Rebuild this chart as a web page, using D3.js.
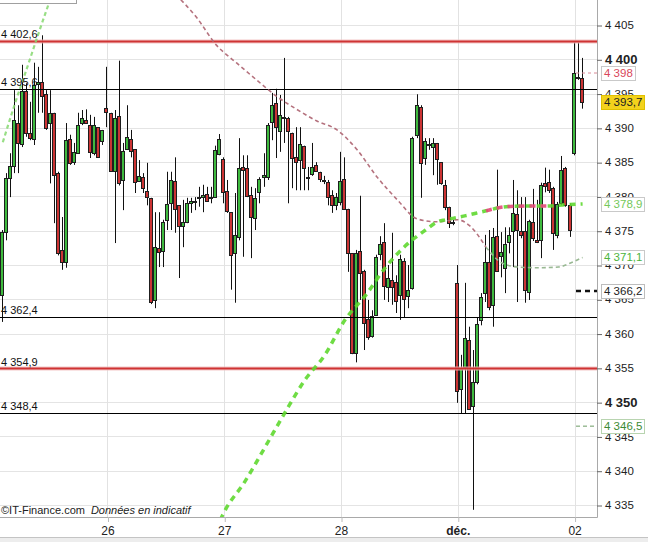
<!DOCTYPE html>
<html><head><meta charset="utf-8">
<script src="https://cdn.jsdelivr.net/npm/d3@7"></script>
<style>
html,body{margin:0;padding:0;background:#fff;}
svg{display:block;font-family:"Liberation Sans",Arial,sans-serif;}
</style></head><body>
<svg id="c" width="648" height="542"></svg>
<script>
// ---- data ----
const openP = [4365.6,4374.8,4382.7,4384.4,4390.7,4387.6,4395.4,4389.3,4388.4,4396.4,4396.7,4394.9,4390.7,4392.2,4383.4,4372.2,4370.4,4388.4,4385.0,4386.3,4390.7,4391.1,4390.4,4386.3,4390.1,4388.1,4392.9,4392.2,4383.7,4391.7,4382.4,4386.9,4388.4,4386.9,4382.3,4382.8,4380.8,4379.8,4364.9,4372.5,4372.0,4376.6,4379.0,4382.3,4378.7,4375.7,4376.3,4379.1,4379.4,4379.8,4379.9,4380.4,4379.8,4379.9,4386.2,4385.5,4380.8,4377.7,4371.7,4374.1,4384.3,4384.2,4380.2,4376.9,4380.6,4382.8,4382.8,4390.9,4393.6,4389.5,4391.4,4391.4,4389.3,4385.7,4385.3,4387.4,4382.9,4383.3,4384.6,4383.6,4382.4,4382.1,4380.2,4378.7,4379.2,4382.5,4378.2,4371.7,4357.2,4372.0,4369.1,4362.1,4359.6,4362.7,4371.6,4373.4,4366.8,4367.8,4367.5,4365.6,4370.6,4365.5,4366.6,4389.0,4393.0,4385.6,4387.5,4387.2,4387.8,4385.0,4381.7,4378.5,4376.2,4367.4,4351.9,4355.1,4359.1,4349.4,4352.9,4362.0,4365.9,4370.4,4364.2,4374.2,4371.3,4369.6,4373.4,4375.0,4377.4,4375.0,4375.0,4366.1,4376.3,4373.6,4373.6,4382.0,4382.1,4381.2,4374.4,4379.0,4384.2,4378.7,4386.3,4397.4,4397.3];
const highP = [4375.1,4383.4,4386.3,4395.5,4393.3,4399.2,4396.5,4393.8,4399.5,4398.9,4403.5,4395.5,4395.5,4392.2,4383.6,4377.0,4390.7,4389.0,4387.8,4392.2,4392.6,4392.7,4391.9,4391.6,4390.1,4389.7,4398.9,4392.2,4392.6,4399.8,4387.8,4393.3,4389.7,4386.9,4385.3,4383.4,4384.9,4379.8,4377.7,4377.7,4376.6,4383.6,4383.6,4385.7,4378.7,4379.5,4379.8,4379.8,4379.9,4381.4,4381.7,4381.4,4381.4,4387.4,4389.1,4385.7,4382.4,4377.7,4380.5,4388.5,4386.0,4386.0,4381.4,4381.2,4382.8,4386.3,4390.7,4395.1,4395.7,4394.8,4400.2,4391.6,4389.3,4390.1,4390.1,4387.4,4384.3,4387.8,4385.0,4383.6,4383.0,4382.4,4380.9,4380.5,4386.5,4385.7,4378.2,4371.7,4372.2,4380.1,4369.3,4364.9,4363.4,4371.5,4374.2,4376.1,4370.0,4374.7,4368.5,4371.5,4371.0,4370.0,4388.7,4394.9,4393.3,4388.5,4388.5,4388.5,4387.8,4385.0,4382.4,4378.5,4376.6,4370.0,4356.9,4367.4,4361.0,4357.6,4362.3,4365.9,4374.4,4375.1,4375.4,4383.9,4374.8,4375.5,4375.5,4382.4,4380.9,4379.9,4379.9,4376.6,4381.1,4379.5,4382.0,4384.2,4383.9,4381.4,4379.2,4385.9,4384.3,4379.0,4402.5,4402.5,4400.2];
const lowP = [4361.7,4373.6,4379.9,4383.4,4383.4,4387.2,4388.7,4388.2,4387.5,4392.2,4392.2,4389.7,4381.9,4376.1,4371.4,4369.3,4369.6,4384.6,4384.6,4386.3,4390.4,4390.7,4385.6,4386.0,4385.6,4387.5,4390.1,4383.6,4373.2,4381.6,4378.0,4386.8,4385.7,4380.5,4382.1,4380.5,4378.7,4364.3,4363.7,4369.7,4369.7,4375.1,4375.1,4374.7,4368.1,4372.6,4376.1,4377.6,4378.0,4378.5,4377.7,4379.2,4379.0,4379.9,4386.0,4379.0,4377.6,4366.4,4364.5,4373.6,4371.2,4379.9,4371.0,4375.1,4379.0,4381.4,4382.4,4388.2,4385.6,4386.5,4387.8,4379.0,4381.2,4380.9,4380.9,4380.9,4380.9,4383.0,4383.7,4382.1,4381.8,4378.7,4377.6,4378.0,4378.7,4378.2,4369.0,4357.0,4355.8,4364.9,4357.6,4359.1,4359.4,4362.6,4370.7,4364.9,4364.6,4364.2,4363.0,4362.0,4362.3,4363.7,4366.4,4388.5,4379.8,4384.6,4386.8,4383.1,4381.7,4381.7,4378.0,4375.4,4375.8,4349.9,4348.4,4348.4,4348.9,4334.3,4352.6,4361.2,4364.6,4363.4,4361.0,4369.0,4368.2,4365.9,4371.7,4369.7,4364.6,4373.9,4364.5,4364.9,4373.5,4373.2,4371.0,4380.6,4380.5,4372.2,4373.9,4378.7,4378.5,4374.1,4386.0,4397.0,4392.8];
const closeP = [4374.8,4382.7,4384.4,4391.1,4387.8,4395.4,4389.3,4388.5,4396.3,4396.7,4394.6,4390.0,4392.2,4383.1,4371.7,4370.4,4388.2,4384.9,4386.5,4390.4,4391.4,4390.7,4386.5,4390.4,4385.7,4389.7,4392.3,4383.7,4391.4,4381.9,4386.6,4388.7,4386.6,4382.1,4383.0,4381.2,4379.9,4364.6,4372.6,4371.9,4376.3,4378.9,4382.4,4378.2,4375.7,4376.3,4379.0,4379.3,4379.2,4379.9,4380.2,4379.3,4379.9,4386.8,4388.4,4380.6,4377.9,4371.5,4374.4,4384.2,4383.9,4380.1,4377.0,4379.8,4382.5,4383.1,4390.4,4393.3,4390.1,4391.9,4391.6,4389.5,4385.6,4385.0,4387.6,4384.2,4382.7,4384.3,4383.7,4382.5,4382.3,4379.9,4378.7,4379.9,4382.3,4378.2,4371.7,4357.2,4371.7,4368.8,4361.5,4359.5,4362.6,4371.2,4373.1,4366.9,4368.1,4366.8,4364.7,4370.9,4365.0,4366.4,4388.5,4393.3,4384.9,4388.1,4387.6,4387.8,4385.5,4381.9,4378.5,4376.1,4376.1,4351.6,4355.0,4359.4,4349.0,4352.9,4361.4,4365.3,4370.4,4363.9,4374.1,4369.1,4371.9,4373.1,4374.4,4377.6,4375.1,4374.4,4366.4,4376.4,4373.9,4373.4,4381.7,4381.5,4380.9,4374.7,4378.9,4383.9,4378.7,4375.1,4398.0,4397.3,4393.7];

const dayTickIndex  = [26, 55, 84, 113, 142];
const dayTickLabels = ["26", "27", "28", "déc.", "02"];
const priceTicks = [4335,4340,4345,4350,4355,4360,4365,4370,4375,4380,4385,4390,4395,4400,4405];
const boldTicks = [4400, 4350];

const redLevels   = [4402.6, 4354.9];
const blackLevels = [4395.6, 4362.4, 4348.4];

// thick dotted indicator (two visible pieces)
const trendEarlyIdx = [0, 3, 6, 9, 12];
const trendEarlyVal = [4387.9, 4393.5, 4398.7, 4404.0, 4409.1];
const trendLateIdx = [54,55,60,65,70,75,80,85,90,95,100,105,108,110,115,120,125,130,135,140,144];
const trendLateVal = [4332.8,4334.0,4338.3,4343.3,4348.4,4353.2,4356.9,4362.0,4365.5,4369.6,4372.8,4375.1,4376.3,4376.6,4377.2,4377.9,4378.5,4378.6,4378.6,4378.8,4378.9];
// thin dashed average
const avgIdx = [43,48,53,58,63,68,73,78,83,88,93,98,103,108,113,116,120,124,128,133,138,141,144];
const avgVal = [4409.4,4406.2,4402.1,4399.5,4397.0,4394.6,4392.7,4391.0,4389.7,4386.8,4382.8,4379.5,4376.7,4376.3,4376.6,4375.7,4372.6,4370.3,4369.7,4369.6,4369.7,4370.3,4371.1];

const markerValues = [4398, 4366.2, 4346.5];
const boxValues = [4398, 4393.7, 4378.9, 4371.1, 4366.2, 4346.5];

// ---- drawing ----
const W = 597, H = 517;
const svg = d3.select("#c");
const loc = d3.formatLocale({decimal: ",", thousands: "\u00a0", grouping: [3], currency: ["", "€"]});
const fmtInt = loc.format(",");
const fmt1 = loc.format(",.1f");
const fmtVal = v => Number.isInteger(v) ? fmtInt(v) : fmt1(v);

const n = openP.length;
const x = d3.scaleLinear().domain([0, n - 1]).range([2.8, 582.6]);
const y = d3.scaleLinear().domain([4335, 4405]).range([505, 25]);

svg.append("rect").attr("width", 648).attr("height", 542).attr("fill", "#fff");
svg.append("rect").attr("x", 0).attr("y", 537).attr("width", 648).attr("height", 5).attr("fill", "#ededed");
svg.append("line").attr("x1", 0).attr("x2", 648).attr("y1", 537.5).attr("y2", 537.5).attr("stroke", "#c4c4c4");

svg.append("defs").append("clipPath").attr("id", "plot")
  .append("rect").attr("x", 0).attr("y", 0).attr("width", W).attr("height", H);
const plot = svg.append("g").attr("clip-path", "url(#plot)");
const crisp = v => Math.round(v) + 0.5;

// grid
plot.selectAll("line.hg").data(priceTicks).join("line").attr("class", "hg")
  .attr("x1", 0).attr("x2", W).attr("y1", d => crisp(y(d))).attr("y2", d => crisp(y(d)))
  .attr("stroke", "#e4e4e4");
plot.selectAll("line.vg").data(dayTickIndex).join("line").attr("class", "vg")
  .attr("y1", 0).attr("y2", H).attr("x1", d => crisp(x(d))).attr("x2", d => crisp(x(d)))
  .attr("stroke", "#e2e2e2");

// candles
const candles = d3.range(n).map(i => ({i, o: openP[i], h: highP[i], l: lowP[i], c: closeP[i]}));
const cg = plot.append("g");
candles.forEach(d => {
  const px = Math.round(x(d.i));
  cg.append("line").attr("x1", px - 0.5).attr("x2", px - 0.5)
    .attr("y1", y(d.h)).attr("y2", y(d.l)).attr("stroke", "#111").attr("stroke-width", 1);
  const top = Math.round(y(Math.max(d.o, d.c))), bot = Math.round(y(Math.min(d.o, d.c)));
  cg.append("rect").attr("x", px - 2.5).attr("width", 3)
    .attr("y", top + 0.5).attr("height", Math.max(1, bot - top))
    .attr("fill", d.c >= d.o ? "#3fba3f" : "#cc3434")
    .attr("stroke", "#1e1e1e").attr("stroke-width", 1);
});

// levels
redLevels.forEach(v => {
  plot.append("line").attr("x1", 0).attr("x2", W).attr("y1", y(v)).attr("y2", y(v))
    .attr("stroke", "#f2bcbc").attr("stroke-width", 4).attr("opacity", 0.8);
  plot.append("line").attr("x1", 0).attr("x2", W).attr("y1", y(v)).attr("y2", y(v))
    .attr("stroke", "#cc2424").attr("stroke-width", 2).attr("opacity", 0.9);
});
blackLevels.forEach(v => {
  plot.append("line").attr("x1", 0).attr("x2", W).attr("y1", crisp(y(v))).attr("y2", crisp(y(v)))
    .attr("stroke", "#000").attr("stroke-width", 1);
});

// indicators
const lineGen = d3.line().x(d => x(d[0])).y(d => y(d[1])).curve(d3.curveMonotoneX);
const avgPts = d3.zip(avgIdx, avgVal);
plot.append("path").attr("d", lineGen(avgPts.filter(p => p[0] <= 120)))
  .attr("fill", "none").attr("stroke", "#b5727e").attr("stroke-width", 1.6).attr("stroke-dasharray", "4,3");
plot.append("path").attr("d", lineGen(avgPts.filter(p => p[0] >= 120)))
  .attr("fill", "none").attr("stroke", "#98b892").attr("stroke-width", 1.6).attr("stroke-dasharray", "4,3");

plot.append("path").attr("d", lineGen(d3.zip(trendEarlyIdx, trendEarlyVal)))
  .attr("fill", "none").attr("stroke", "#86d870").attr("stroke-width", 2.2).attr("stroke-dasharray", "4,3").attr("opacity", 0.85);
const latePts = d3.zip(trendLateIdx, trendLateVal);
plot.append("path").attr("d", lineGen(latePts))
  .attr("fill", "none").attr("stroke", "#5fd830").attr("stroke-width", 3.5).attr("stroke-dasharray", "6,5").attr("opacity", 0.9);
plot.append("path").attr("d", lineGen(latePts.filter(p => p[0] >= 120 && p[0] <= 135)))
  .attr("fill", "none").attr("stroke", "#e4487a").attr("stroke-width", 3.5).attr("stroke-dasharray", "6,5").attr("opacity", 0.9);

// right-side markers
const markerStyle = [
  {stroke: "#d98a96", w: 1, dash: "3,3"},
  {stroke: "#111", w: 2.5, dash: "5,4"},
  {stroke: "#6a9a62", w: 1, dash: "4,3"}
];
markerValues.forEach((v, k) => {
  plot.append("line").attr("x1", 576).attr("x2", W).attr("y1", y(v)).attr("y2", y(v))
    .attr("stroke", markerStyle[k].stroke).attr("stroke-width", markerStyle[k].w)
    .attr("stroke-dasharray", markerStyle[k].dash);
});

// level labels
svg.selectAll("text.lvl").data([...redLevels, ...blackLevels]).join("text").attr("class", "lvl")
  .attr("x", 1).attr("y", d => y(d) - 3).attr("font-size", 11).attr("fill", "#111")
  .text(d => fmt1(d));

// frame
svg.append("line").attr("x1", W + 0.5).attr("x2", W + 0.5).attr("y1", 0).attr("y2", H + 0.5).attr("stroke", "#a9a9a9");
svg.append("line").attr("x1", 0).attr("x2", W + 0.5).attr("y1", H + 0.5).attr("y2", H + 0.5).attr("stroke", "#a9a9a9");

// right axis
const yAxis = d3.axisRight(y).tickValues(priceTicks).tickSize(5).tickPadding(3).tickFormat(fmtInt);
const ya = svg.append("g").attr("transform", `translate(${W},0)`).call(yAxis);
ya.select(".domain").remove();
ya.selectAll(".tick line").attr("stroke", "#666").attr("transform", "translate(0,0.5)");
ya.selectAll(".tick text").attr("font-family", "Liberation Sans, Arial, sans-serif")
  .attr("fill", "#222")
  .attr("font-size", d => boldTicks.includes(d) ? 13 : 11.5)
  .attr("font-weight", d => boldTicks.includes(d) ? "bold" : "normal");

// bottom axis
const xAxis = d3.axisBottom(x).tickValues(dayTickIndex).tickSize(5).tickPadding(4)
  .tickFormat((d, i) => dayTickLabels[i]);
const xa = svg.append("g").attr("transform", `translate(0,${H})`).call(xAxis);
xa.select(".domain").remove();
xa.selectAll(".tick line").attr("stroke", "#bbb").attr("transform", "translate(0.5,0)");
xa.selectAll(".tick text").attr("font-family", "Liberation Sans, Arial, sans-serif")
  .attr("fill", "#222").attr("font-size", 12)
  .attr("font-weight", (d, i) => dayTickLabels[i] === "déc." ? "bold" : "normal");

// value boxes
const boxStyle = [
  {fill: "#fff", stroke: "#c9c9c9", text: "#d9475a"},
  {fill: "#f3d21c", stroke: "#e0c000", text: "#222"},
  {fill: "#fff", stroke: "#c9c9c9", text: "#74c85a"},
  {fill: "#fff", stroke: "#c9c9c9", text: "#4cb43c"},
  {fill: "#fff", stroke: "#bdbdbd", text: "#222"},
  {fill: "#fff", stroke: "#b8d4b0", text: "#3c8a34"}
];
boxValues.forEach((v, k) => {
  const cy = y(v);
  const g = svg.append("g");
  const t = g.append("text").attr("x", 604).attr("y", cy + 4).attr("font-size", 11.5)
    .attr("fill", boxStyle[k].text).text(fmtVal(v));
  const w = t.node().getComputedTextLength();
  g.insert("rect", "text").attr("x", 601.5).attr("y", Math.round(cy - 7) + 0.5)
    .attr("width", Math.round(w + 5)).attr("height", 14)
    .attr("fill", boxStyle[k].fill).attr("stroke", boxStyle[k].stroke);
});

// legend box remnant at top-left
svg.append("rect").attr("x", -1.5).attr("y", -20).attr("width", 78).attr("height", 23.5)
  .attr("fill", "#fff").attr("stroke", "#a0a0a0");

// credits
const cr = svg.append("text").attr("x", 1).attr("y", 514).attr("font-size", 11).attr("fill", "#222");
cr.append("tspan").text("©IT-Finance.com");
cr.append("tspan").attr("dx", 6).attr("font-style", "italic").text("Données en indicatif");
</script>
</body></html>
